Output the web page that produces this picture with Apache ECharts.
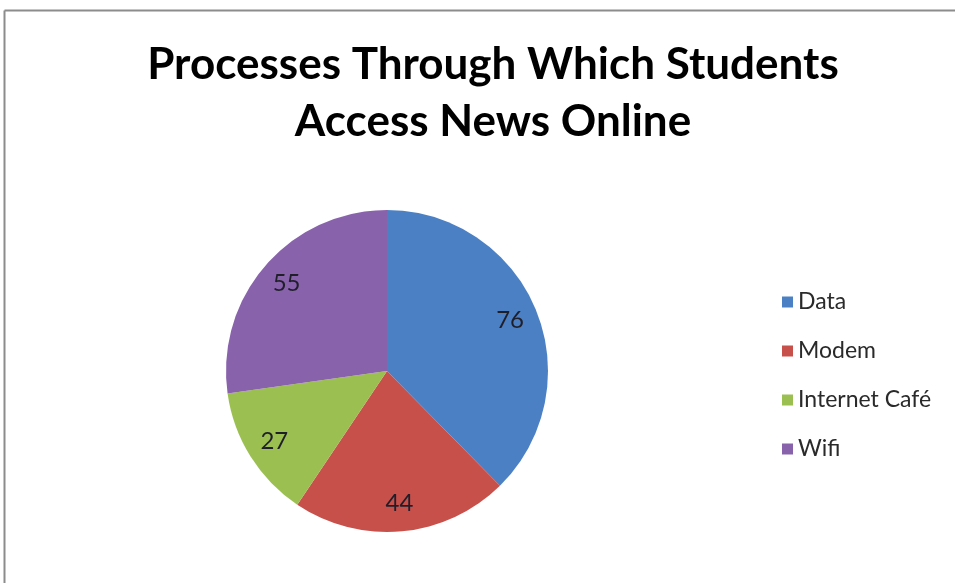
<!DOCTYPE html>
<html>
<head>
<meta charset="utf-8">
<script src="https://cdn.jsdelivr.net/npm/echarts@6/dist/echarts.min.js"></script>
<style>
  html, body { margin: 0; padding: 0; background: #ffffff; }
  #chart { width: 955px; height: 583px; }
</style>
</head>
<body>
<div id="chart"></div>
<script>
// Ways students reach online news
const categories = ['Data', 'Modem', 'Internet Café', 'Wifi'];
const counts = [76, 44, 27, 55];
const palette = ['#4C80C4', '#C8504B', '#9CBF52', '#8962AC'];
const titleLines = ['Processes Through Which Students', 'Access News Online'];

const pieData = categories.map((name, i) => ({
  name: name,
  value: counts[i],
  itemStyle: { color: palette[i] }
}));

const chart = echarts.init(document.getElementById('chart'));
chart.setOption({
  backgroundColor: '#ffffff',
  animation: false,
  title: {
    text: titleLines.join('\n'),
    left: 488,
    top: 31,
    textAlign: 'center',
    textStyle: {
      fontFamily: 'Lato',
      fontWeight: 'bold',
      fontSize: 44,
      lineHeight: 57,
      color: '#000000'
    }
  },
  legend: {
    orient: 'vertical',
    left: 777,
    top: 285,
    icon: 'rect',
    itemWidth: 11,
    itemHeight: 11,
    itemGap: 25,
    data: categories,
    textStyle: {
      fontFamily: 'Lato',
      fontSize: 23,
      lineHeight: 24,
      color: '#2a2a2a'
    }
  },
  graphic: [
    { type: 'line', shape: { x1: 4.5, y1: 10.5, x2: 955, y2: 10.5 }, style: { stroke: '#8c8c8c', lineWidth: 2 } },
    { type: 'line', shape: { x1: 4.5, y1: 10.5, x2: 4.5, y2: 583 }, style: { stroke: '#8c8c8c', lineWidth: 2 } }
  ],
  series: [
    {
      type: 'pie',
      center: [387, 371],
      radius: [0, 161],
      startAngle: 90,
      clockwise: true,
      label: { show: false },
      labelLine: { show: false },
      emphasis: { disabled: true },
      data: pieData
    },
    {
      // transparent ring that only carries the value labels
      type: 'pie',
      center: [387, 371],
      radius: [99, 161],
      startAngle: 90,
      clockwise: true,
      silent: true,
      legendHoverLink: false,
      itemStyle: { color: 'rgba(0,0,0,0)' },
      label: {
        show: true,
        position: 'inside',
        formatter: '{c}',
        fontFamily: 'Lato',
        fontSize: 24,
        color: '#1f1f2a'
      },
      labelLine: { show: false },
      data: categories.map((name, i) => ({ name: name, value: counts[i] }))
    }
  ]
});
</script>
</body>
</html>
